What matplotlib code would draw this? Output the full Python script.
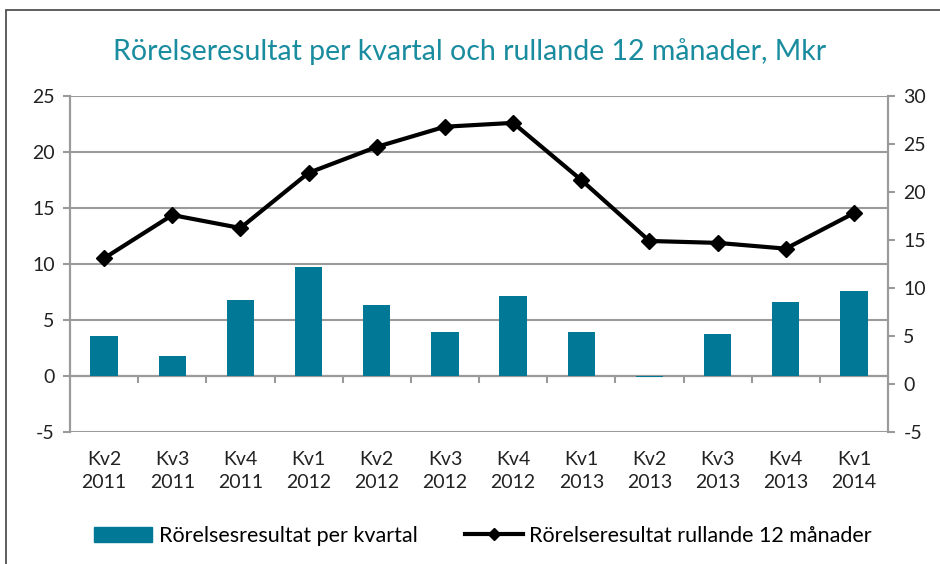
import matplotlib.pyplot as plt
from matplotlib.patches import Rectangle
from matplotlib.lines import Line2D
import numpy as np

plt.rcParams['font.family'] = ['Lato', 'DejaVu Sans']
plt.rcParams['axes.unicode_minus'] = False

# Data
quarters = ['Kv2', 'Kv3', 'Kv4', 'Kv1', 'Kv2', 'Kv3', 'Kv4', 'Kv1', 'Kv2', 'Kv3', 'Kv4', 'Kv1']
years = ['2011', '2011', '2011', '2012', '2012', '2012', '2012', '2013', '2013', '2013', '2013', '2014']
per_quarter = [3.6, 1.8, 6.8, 9.75, 6.3, 3.9, 7.15, 3.9, -0.1, 3.75, 6.6, 7.6]
rolling_12m = [13.1, 17.6, 16.25, 22.0, 24.7, 26.8, 27.2, 21.25, 14.9, 14.7, 14.1, 17.8]

labels = [f'{q}\n{y}' for q, y in zip(quarters, years)]

bar_color = '#007896'
grid_color = '#9a9a9a'
title_color = '#1a8c9f'

fig = plt.figure(figsize=(9.4, 5.64), dpi=100)
ax = fig.add_axes([0.0745, 0.234, 0.8702, 0.5958])
ax2 = ax.twinx()

x = np.arange(len(labels))
ax.bar(x, per_quarter, width=0.4, color=bar_color, zorder=3)

ax.set_xlim(-0.5, len(labels) - 0.5)
ax.set_ylim(-5, 25)
ax.set_yticks(np.arange(-5, 26, 5))
ax.yaxis.grid(True, color=grid_color, linewidth=1.5, zorder=0)
ax.set_axisbelow(True)

ax2.plot(x, rolling_12m, color='black', linewidth=3, marker='D', markersize=8, zorder=5)
ax2.set_ylim(-5, 30)
ax2.set_yticks(np.arange(-5, 31, 5))

for a in (ax, ax2):
    for s in ('top', 'bottom'):
        a.spines[s].set_visible(False)
    a.spines['left'].set_color(grid_color)
    a.spines['right'].set_color(grid_color)
    a.spines['left'].set_linewidth(1.5)
    a.spines['right'].set_linewidth(1.5)
    a.tick_params(axis='y', colors=grid_color, labelcolor='#222222', labelsize=14,
                  length=5, width=1.5, pad=6)

ax.set_xticks(x)
ax.set_xticklabels(labels, fontsize=14, color='#222222', linespacing=1.4)
ax.tick_params(axis='x', length=0, pad=14)

# zero axis with boundary tick marks
zero_pos = (0 - (-5)) / 30
sec = ax.secondary_xaxis(zero_pos)
sec.set_xticks(np.arange(0.5, len(labels) - 1, 1.0))
sec.set_xticklabels([])
sec.spines['bottom'].set_color(grid_color)
sec.spines['bottom'].set_linewidth(1.5)
sec.tick_params(axis='x', direction='out', length=5, width=1.5, colors=grid_color)
ax.axhline(0, color=grid_color, linewidth=1.5, zorder=1)

fig.text(0.5, 0.908, 'Rörelseresultat per kvartal och rullande 12 månader, Mkr',
         ha='center', va='center', fontsize=20.5, color=title_color)

handles = [Rectangle((0, 0), 1, 1, color=bar_color),
           Line2D([0], [0], color='black', linewidth=3, marker='D', markersize=6)]
fig.legend(handles, ['Rörelsesresultat per kvartal', 'Rörelseresultat rullande 12 månader'],
           loc='center', bbox_to_anchor=(0.514, 0.05), ncol=2, frameon=False,
           fontsize=15.5, handlelength=2.7, handletextpad=0.3, columnspacing=2.2)

fig.patches.append(Rectangle((6 / 940, -0.05), 1.1, 1.05 - 10 / 564, transform=fig.transFigure,
                             fill=False, edgecolor='#444444', linewidth=1.2))

fig.savefig('out.png', dpi=100)
